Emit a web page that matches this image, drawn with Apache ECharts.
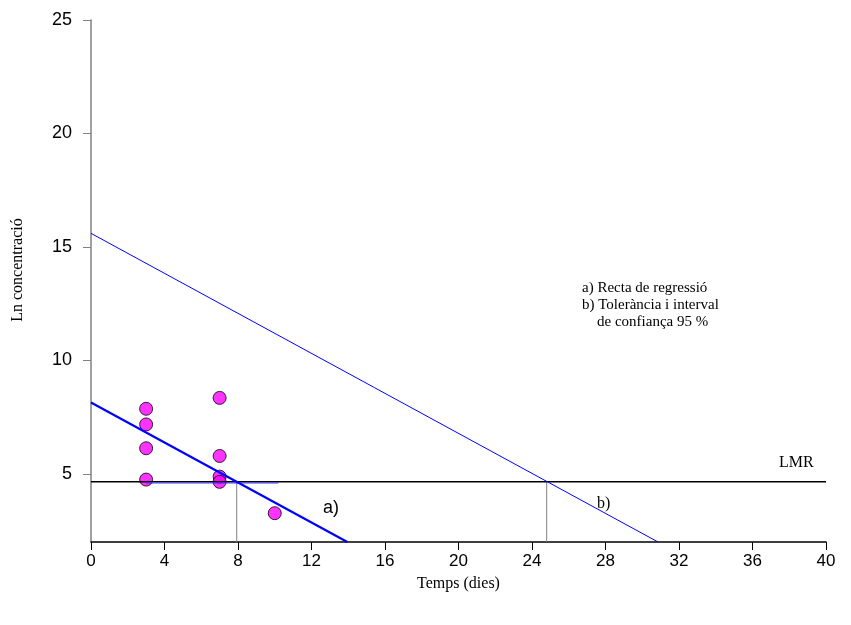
<!DOCTYPE html>
<html>
<head>
<meta charset="utf-8">
<script src="https://cdn.jsdelivr.net/npm/echarts@6/dist/echarts.min.js"></script>
<style>
  html, body { margin: 0; padding: 0; background: #fff; }
  #chart { width: 851px; height: 625px; }
</style>
</head>
<body>
<div id="chart"></div>
<script>
  // mesures (temps en dies, ln concentració)
  const temps = [3, 3, 3, 3, 7, 7, 7, 7, 10];
  const lnConc = [7.87, 7.18, 6.13, 4.75, 8.35, 5.79, 4.88, 4.65, 3.27];

  // recta de regressió (a) i límit de tolerància (b)
  const rectaA = [[0, 8.15], [13.95, 2]];
  const rectaB = [[0, 15.6], [30.86, 2]];
  const lmr = 4.65;
  const tallA = 7.93;
  const tallB = 24.8;
  const liniaCurta = [[3, 4.6], [10.2, 4.6]];

  const xTicks = [0, 4, 8, 12, 16, 20, 24, 28, 32, 36, 40];
  const yTicks = [5, 10, 15, 20, 25];

  const chart = echarts.init(document.getElementById('chart'));

  const serif = '"Liberation Serif", "Times New Roman", serif';
  const sans = '"Liberation Sans", Arial, sans-serif';

  chart.setOption({
    backgroundColor: '#ffffff',
    animation: false,
    grid: { left: 91, right: 25, top: 20, bottom: 83 },
    xAxis: {
      type: 'value',
      min: 0,
      max: 40,
      interval: 4,
      name: 'Temps (dies)',
      nameLocation: 'middle',
      nameGap: 34,
      nameTextStyle: { fontFamily: serif, fontSize: 16, color: '#000' },
      axisLine: { show: true, onZero: false, lineStyle: { color: '#000', width: 1.5 } },
      axisTick: { show: true, length: 8, lineStyle: { color: '#000' } },
      axisLabel: {
        margin: 11, fontFamily: sans, fontSize: 17, color: '#000',
        customValues: xTicks
      },
      splitLine: { show: false }
    },
    yAxis: {
      type: 'value',
      min: 2,
      max: 25,
      axisLine: { show: true, onZero: false, lineStyle: { color: '#808080', width: 1.5 } },
      axisTick: { show: true, length: 8, lineStyle: { color: '#808080' }, customValues: yTicks },
      axisLabel: {
        margin: 19, fontFamily: sans, fontSize: 18, color: '#000',
        customValues: yTicks
      },
      splitLine: { show: false }
    },
    series: [
      {
        type: 'scatter',
        data: temps.map((t, i) => [t, lnConc[i]]),
        symbol: 'circle',
        symbolSize: 13,
        itemStyle: { color: '#ff00ff', borderColor: '#000', borderWidth: 1 },
        z: 2
      },
      {
        type: 'line', data: [[tallA, lmr], [tallA, 2]], symbol: 'none',
        lineStyle: { color: '#808080', width: 1 }, z: 3
      },
      {
        type: 'line', data: [[tallB, lmr], [tallB, 2]], symbol: 'none',
        lineStyle: { color: '#808080', width: 1 }, z: 3
      },
      {
        type: 'line', data: [[0, lmr], [40, lmr]], symbol: 'none',
        lineStyle: { color: '#000', width: 1.5 }, z: 3
      },
      {
        type: 'line', data: liniaCurta, symbol: 'none',
        lineStyle: { color: '#3333ff', width: 1 }, z: 4
      },
      {
        type: 'line', data: rectaA, symbol: 'none',
        lineStyle: { color: '#0000ff', width: 2.2 }, z: 4
      },
      {
        type: 'line', data: rectaB, symbol: 'none',
        lineStyle: { color: '#0000ff', width: 1 }, z: 4
      }
    ],
    graphic: [
      {
        type: 'text', x: 18, y: 270, rotation: Math.PI / 2,
        style: {
          text: 'Ln concentració', font: '16px ' + serif, fill: '#000',
          textAlign: 'center', textVerticalAlign: 'middle'
        }
      },
      {
        type: 'text', left: 323, top: 499,
        style: { text: 'a)', font: '18px ' + sans, fill: '#000' }
      },
      {
        type: 'text', left: 597, top: 496,
        style: { text: 'b)', font: '16px ' + serif, fill: '#000' }
      },
      {
        type: 'text', left: 779, top: 455,
        style: { text: 'LMR', font: '16px ' + serif, fill: '#000' }
      },
      {
        type: 'text', left: 582, top: 280,
        style: {
          text: 'a) Recta de regressió\nb) Tolerància i interval\n    de confiança 95 %',
          font: '15px ' + serif, fill: '#000', lineHeight: 17
        }
      }
    ]
  });
</script>
</body>
</html>
